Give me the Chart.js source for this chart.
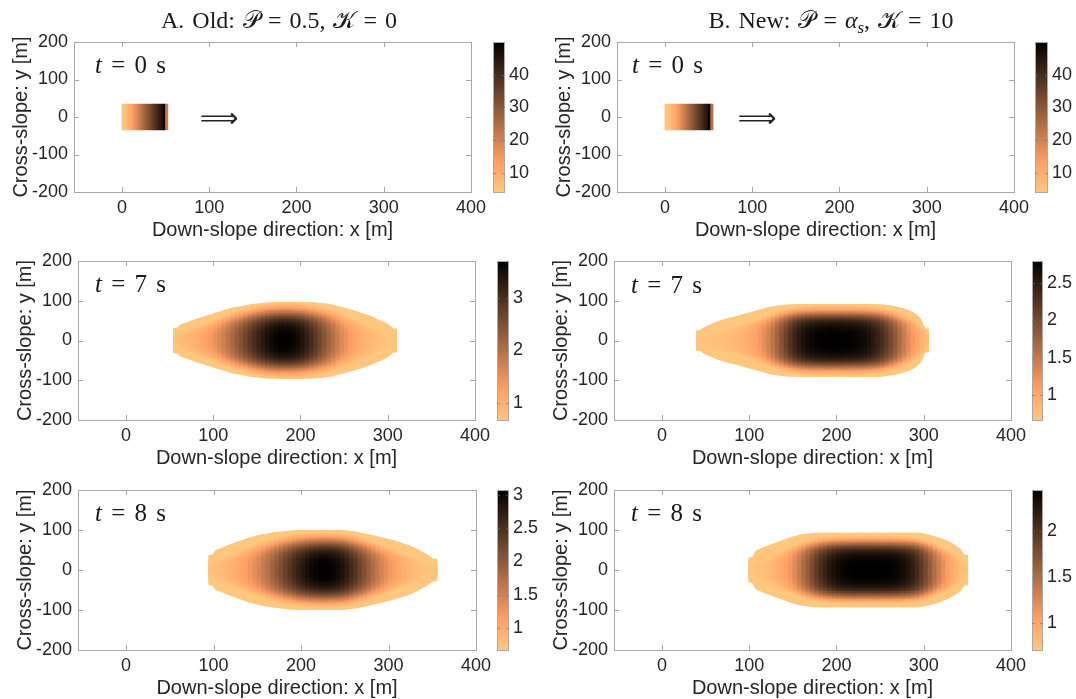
<!DOCTYPE html>
<html>
<head>
<meta charset="utf-8">
<script src="https://cdn.jsdelivr.net/npm/chart.js@4.4.1/dist/chart.umd.min.js"></script>
<style>
  html, body { margin:0; padding:0; }
  body { width:1076px; height:699px; overflow:hidden; background:#ffffff; position:relative; }
  canvas { position:absolute; }
  .ttl { position:absolute; font-family:'Liberation Serif','DejaVu Serif',serif; font-size:24px; word-spacing:2px; color:#1a1a1a; white-space:nowrap; transform:translate(-50%,-50%); z-index:5; }
  .tlab { position:absolute; font-family:'Liberation Serif','DejaVu Serif',serif; font-size:25px; word-spacing:3px; color:#1a1a1a; white-space:nowrap; transform:translateY(-50%); z-index:5; }
  .arrow { position:absolute; font-family:'DejaVu Sans',sans-serif; font-size:27px; color:#222; transform:translate(-50%,-50%); z-index:5; }
  sub { font-size:70%; vertical-align:-0.3em; line-height:0; }
</style>
</head>
<body>
<script>
// ---------------- DATA ----------------
const xTickValues = [0, 100, 200, 300, 400];
const yTickValues = [-200, -100, 0, 100, 200];

// t = 0 s : initial blocks, columns every 2.5 m starting at x = 1.25 m
const oldT0Thickness = [4.3, 5.5, 7.5, 9.8, 12.2, 14.6, 17.0, 19.4, 21.8, 24.2, 26.6, 29.0, 31.4, 33.8, 36.2, 38.6, 41.0, 43.4, 45.8, 48.5, 22.0];
const newT0Thickness = [4.3, 5.0, 6.4, 8.4, 10.6, 12.9, 15.2, 17.5, 19.8, 22.1, 24.4, 26.7, 29.0, 31.3, 33.6, 35.9, 38.2, 40.5, 42.8, 45.2, 48.5, 24.0];
const oldT0HalfWidth = 34;
const newT0HalfWidth = 34;

// t = 7 s, old model : columns every 5 m from x = 57.5 m
const oldT7Thickness = [0.79,0.83,0.87,0.92,0.98,1.05,1.14,1.24,1.35,1.48,1.62,1.77,1.93,2.11,2.29,2.47,2.66,2.84,3.01,3.18,3.32,3.45,3.55,3.63,3.68,3.70,
  3.68,3.62,3.53,3.40,3.23,3.05,2.85,2.63,2.42,2.20,2.00,1.80,1.62,1.46,1.32,1.19,1.09,1.00,0.92,0.86,0.82,0.78,0.75,0.73,0.71];
const oldT7HalfWidth = [32,40,44,48,52,56,59,63,66,70,73,77,80,83,85,87,89,91,92.5,94,95,96,96.5,97,97,97,
  97,97,97,97,96.5,96,95.5,94.5,93.5,92,90,87,84,81,78,75,72,68,64,60,55,50,45,38,30];

// t = 7 s, new model : columns every 5 m from x = 42.5 m
const newT7Thickness = [0.70,0.71,0.72,0.73,0.74,0.75,0.77,0.79,0.81,0.84,0.88,0.93,0.99,1.07,1.16,1.27,1.40,1.55,1.72,1.90,2.08,2.25,2.40,
  2.52,2.61,2.68,2.72,2.75,2.77,2.78,2.79,2.79,2.79,2.78,2.77,2.76,2.74,2.71,2.67,2.61,2.53,2.43,
  2.31,2.17,2.01,1.84,1.66,1.48,1.31,1.15,1.01,0.89,0.80];
const newT7HalfWidth = [26,33,38,43,47,51,54,57,60,63,66,69,72,75,78,81,84,86,88,89.5,90.5,91,91.5,
  92,92,92,92,92,92,92,92,92,92,92,92,92,92,92,92,92,92,92,
  91,89.5,88,86,83.5,80.5,77,72,64,52,30];

// t = 8 s, old model : columns every 5 m from x = 97.5 m
const oldT8Thickness = [0.76,0.79,0.82,0.86,0.90,0.96,1.02,1.09,1.17,1.26,1.36,1.47,1.59,1.72,1.86,2.00,2.14,2.29,2.42,2.56,2.68,2.79,2.89,2.97,3.02,3.06,3.07,
  3.06,3.02,2.95,2.85,2.73,2.59,2.44,2.27,2.11,1.94,1.78,1.63,1.49,1.36,1.24,1.14,1.05,0.97,0.91,0.86,0.81,0.78,0.75,0.73,0.72];
const oldT8HalfWidth = [38,50,54,59,63,67,71,75,79,82,85,88,90,92,93.5,95,96.5,97.5,98.5,99.5,100,
  100,100,100,100,100,100,100,100,100,100,
  99,97.5,96,94,92,89.5,87,84.5,82,79,76,73,70,66.5,63,58,53,47,41,34,28];

// t = 8 s, new model : columns every 5 m from x = 102.5 m
const newT8Thickness = [0.74,0.75,0.77,0.79,0.82,0.86,0.91,0.97,1.04,1.13,1.24,1.37,1.51,1.65,1.79,1.93,2.05,2.15,2.24,2.31,2.36,2.40,2.42,2.44,2.45,
  2.45,2.45,2.45,2.45,2.45,2.44,2.44,2.43,2.41,2.38,2.34,2.28,2.20,2.09,1.96,1.81,1.65,1.49,1.34,1.20,1.07,0.96,0.87,0.80,0.76];
const newT8HalfWidth = [32,48,53,58,62,66,70,74,78,82,85,88,90,91.5,92.5,93,
  93.5,93.5,93.5,93.5,93.5,93.5,93.5,93.5,93.5,93.5,93.5,93.5,93.5,93.5,93.5,93.5,93.5,93.5,93.5,93.5,93.5,93.5,93.5,
  92,90,87.5,84.5,81,77,73,67,60,52,38];

// cross-slope profile: fraction of the centre-line thickness, from the centre (first) to the edge (last)
const crossOld = [1.00,1.00,0.995,0.99,0.98,0.97,0.95,0.93,0.90,0.86,0.81,0.75,0.68,0.60,0.52,0.44,0.36,0.29,0.23,0.19];
const crossNew = [1.00,1.00,1.00,0.995,0.99,0.98,0.97,0.955,0.93,0.90,0.86,0.80,0.73,0.65,0.56,0.47,0.39,0.32,0.27,0.24];
const crossBlock = [1.00];

// colour bar ranges and ticks
const cbarOldT0 = [4.3, 49.9], cbarTicksOldT0 = [10, 20, 30, 40];
const cbarNewT0 = [4.3, 49.9], cbarTicksNewT0 = [10, 20, 30, 40];
const cbarOldT7 = [0.67, 3.70], cbarTicksOldT7 = [1, 2, 3];
const cbarNewT7 = [0.67, 2.79], cbarTicksNewT7 = [1, 1.5, 2, 2.5];
const cbarOldT8 = [0.675, 3.07], cbarTicksOldT8 = [1, 1.5, 2, 2.5, 3];
const cbarNewT8 = [0.71, 2.45], cbarTicksNewT8 = [1, 1.5, 2];

// ---------------- LAYOUT / STYLE ----------------
const FONT = "'Liberation Sans', Arial, Helvetica, sans-serif";
const TXT = '#262626';
const BOX = '#a9a9a9';
Chart.defaults.font.family = FONT;

function copper(t) { // reversed MATLAB copper: t=0 light, t=1 black
  t = Math.max(0, Math.min(1, t));
  const u = 1 - t;
  const r = Math.min(1, 1.25 * u), g = 0.7812 * u, b = 0.4975 * u;
  return `rgb(${Math.round(r*255)},${Math.round(g*255)},${Math.round(b*255)})`;
}
function colourFor(v, range) { return copper((v - range[0]) / (range[1] - range[0])); }

// nested floating bars: one dataset per cross-slope level, innermost first (drawn on top)
function heatDatasets(x0, dx, thick, half, cross, range, smooth) {
  const K = cross.length;
  const xs = thick.map((_, i) => x0 + i * dx);
  const hw = Array.isArray(half) ? half : thick.map(() => half);
  const sets = cross.map((c, k) => {
    const s = (k + 1) / K;
    const outer = smooth && k === K - 1;
    return {
      data: xs.map((x, i) => {
        const h = outer ? Math.max(hw[i], hw[Math.max(0, i - 1)], hw[Math.min(hw.length - 1, i + 1)]) : hw[i] * s;
        return { x: x, y: [-h, h] };
      }),
      backgroundColor: thick.map(v => colourFor(v * c, range)),
      borderWidth: 0, barPercentage: 1, categoryPercentage: 1, inflateAmount: 0.45, grouped: false
    };
  });
  if (!smooth) return sets;
  // white masks above / below the read outline, so the outer edge is a smooth curve
  const n = hw.length;
  const up = [{ x: xs[0] - dx, y: hw[0] }, { x: xs[0] - dx / 2, y: hw[0] }]
    .concat(xs.map((x, i) => ({ x: x, y: hw[i] })),
            [{ x: xs[n - 1] + dx / 2, y: hw[n - 1] }, { x: xs[n - 1] + dx, y: hw[n - 1] }]);
  const lo = up.map(p => ({ x: p.x, y: -p.y }));
  const mask = (pts, target) => ({
    type: 'line', data: pts, fill: target, backgroundColor: '#ffffff', borderColor: 'rgba(255,255,255,0)',
    borderWidth: 0, pointRadius: 0, cubicInterpolationMode: 'monotone'
  });
  return [mask(up, 'end'), mask(lo, 'start')].concat(sets);
}

const boxPlugin = {
  id: 'matlabBox',
  afterDraw(chart) {
    const { ctx, chartArea: a, scales: { x, y } } = chart;
    ctx.save();
    ctx.strokeStyle = BOX; ctx.lineWidth = 1;
    ctx.strokeRect(Math.round(a.left) + 0.5, Math.round(a.top) + 0.5, Math.round(a.right - a.left), Math.round(a.bottom - a.top));
    ctx.beginPath();
    xTickValues.forEach(v => {
      const p = Math.round(x.getPixelForValue(v)) + 0.5;
      ctx.moveTo(p, a.bottom); ctx.lineTo(p, a.bottom - 5);
      ctx.moveTo(p, a.top); ctx.lineTo(p, a.top + 5);
    });
    yTickValues.forEach(v => {
      const p = Math.round(y.getPixelForValue(v)) + 0.5;
      ctx.moveTo(a.left, p); ctx.lineTo(a.left + 5, p);
      ctx.moveTo(a.right, p); ctx.lineTo(a.right - 5, p);
    });
    ctx.stroke();
    ctx.restore();
  }
};

const cbarPlugin = {
  id: 'cbarBox',
  afterDraw(chart) {
    const { ctx, chartArea: a, scales: { y } } = chart;
    ctx.save();
    ctx.strokeStyle = BOX; ctx.lineWidth = 1;
    ctx.strokeRect(Math.round(a.left) + 0.5, Math.round(a.top) + 0.5, Math.round(a.right - a.left) - 1, Math.round(a.bottom - a.top));
    ctx.strokeStyle = 'rgba(120,120,120,0.6)';
    ctx.beginPath();
    y.ticks.forEach(t => {
      const p = Math.round(y.getPixelForValue(t.value)) + 0.5;
      ctx.moveTo(a.right, p); ctx.lineTo(a.right - 3, p);
      ctx.moveTo(a.left, p); ctx.lineTo(a.left + 3, p);
    });
    ctx.stroke();
    ctx.restore();
  }
};

function makeCanvas(left, top, w, h) {
  const c = document.createElement('canvas');
  c.width = w; c.height = h;
  c.style.left = left + 'px'; c.style.top = top + 'px';
  c.style.width = w + 'px'; c.style.height = h + 'px';
  document.body.appendChild(c);
  return c;
}

function panel(geo, datasets) {
  const padL = 74, padT = 20, padR = 25, padB = 52;
  const cl = geo.L - padL, ct = geo.T - padT;
  const cw = geo.R - geo.L + padL + padR, ch = geo.B - geo.T + padT + padB;
  const cv = makeCanvas(cl, ct, cw, ch);
  new Chart(cv, {
    type: 'bar',
    data: { datasets },
    options: {
      responsive: false, animation: false, devicePixelRatio: 1, events: [],
      layout: { padding: { top: padT, right: padR, left: 0, bottom: 0 } },
      plugins: { legend: { display: false }, tooltip: { enabled: false }, filler: { propagate: false } },
      scales: {
        x: {
          type: 'linear', min: -55, max: 400, offset: false,
          grid: { display: false, drawTicks: false, offset: false }, border: { display: false },
          afterBuildTicks: s => { s.ticks = xTickValues.map(v => ({ value: v })); },
          ticks: { color: TXT, font: { size: 18 }, padding: 5, maxRotation: 0, autoSkip: false },
          title: { display: true, text: 'Down-slope direction: x [m]', color: TXT, font: { size: 20 }, padding: { top: 0, bottom: 2 } },
          afterFit: s => { s.height = padB; }
        },
        y: {
          type: 'linear', min: -200, max: 200,
          grid: { display: false, drawTicks: false }, border: { display: false },
          afterBuildTicks: s => { s.ticks = yTickValues.map(v => ({ value: v })); },
          ticks: { color: TXT, font: { size: 18 }, padding: 6, autoSkip: false },
          title: { display: true, text: 'Cross-slope: y [m]', color: TXT, font: { size: 20 }, padding: { top: 9, bottom: 0 } },
          afterFit: s => { s.width = padL; }
        }
      }
    },
    plugins: [boxPlugin]
  });
}

function colourbar(geo, range, ticks) {
  const padT = 15, padB = 15, padR = 40;
  const cw = geo.cbR - geo.cbL + padR, ch = geo.B - geo.T + padT + padB;
  const cv = makeCanvas(geo.cbL, geo.T - padT, cw, ch);
  new Chart(cv, {
    type: 'bar',
    data: {
      labels: [''],
      datasets: [{
        data: [[range[0], range[1]]],
        backgroundColor: c => {
          const a = c.chart.chartArea;
          if (!a) return '#ffffff';
          const g = c.chart.ctx.createLinearGradient(0, a.bottom, 0, a.top);
          for (let i = 0; i <= 40; i++) g.addColorStop(i / 40, copper(i / 40));
          return g;
        },
        borderWidth: 0, barPercentage: 1, categoryPercentage: 1, inflateAmount: 0
      }]
    },
    options: {
      responsive: false, animation: false, devicePixelRatio: 1, events: [],
      layout: { padding: { top: padT, bottom: padB, left: 0, right: 0 } },
      plugins: { legend: { display: false }, tooltip: { enabled: false } },
      scales: {
        x: { display: false },
        y: {
          position: 'right', min: range[0], max: range[1],
          grid: { display: false, drawTicks: false }, border: { display: false },
          afterBuildTicks: s => { s.ticks = ticks.map(v => ({ value: v })); },
          ticks: { color: TXT, font: { size: 18 }, padding: 4, autoSkip: false, callback: v => String(v) },
          afterFit: s => { s.width = padR; }
        }
      }
    },
    plugins: [cbarPlugin]
  });
}

function label(cls, html, left, top) {
  const d = document.createElement('div');
  d.className = cls; d.innerHTML = html;
  d.style.left = left + 'px'; d.style.top = top + 'px';
  document.body.appendChild(d);
}

const G = {
  A0: { L: 74,  R: 471,  T: 42,  B: 192, cbL: 493,  cbR: 505 },
  B0: { L: 617, R: 1014, T: 42,  B: 192, cbL: 1035, cbR: 1048 },
  A7: { L: 78,  R: 475,  T: 261, B: 420, cbL: 497,  cbR: 509 },
  B7: { L: 614, R: 1011, T: 261, B: 420, cbL: 1032, cbR: 1043 },
  A8: { L: 78,  R: 476,  T: 490, B: 650, cbL: 497,  cbR: 509 },
  B8: { L: 614, R: 1011, T: 490, B: 650, cbL: 1032, cbR: 1043 }
};

panel(G.A0, heatDatasets(1.25, 2.5, oldT0Thickness, oldT0HalfWidth, crossBlock, cbarOldT0, false));
panel(G.B0, heatDatasets(1.25, 2.5, newT0Thickness, newT0HalfWidth, crossBlock, cbarNewT0, false));
panel(G.A7, heatDatasets(57.5, 5, oldT7Thickness, oldT7HalfWidth, crossOld, cbarOldT7, true));
panel(G.B7, heatDatasets(42.5, 5, newT7Thickness, newT7HalfWidth, crossNew, cbarNewT7, true));
panel(G.A8, heatDatasets(97.5, 5, oldT8Thickness, oldT8HalfWidth, crossOld, cbarOldT8, true));
panel(G.B8, heatDatasets(102.5, 5, newT8Thickness, newT8HalfWidth, crossNew, cbarNewT8, true));

colourbar(G.A0, cbarOldT0, cbarTicksOldT0);
colourbar(G.B0, cbarNewT0, cbarTicksNewT0);
colourbar(G.A7, cbarOldT7, cbarTicksOldT7);
colourbar(G.B7, cbarNewT7, cbarTicksNewT7);
colourbar(G.A8, cbarOldT8, cbarTicksOldT8);
colourbar(G.B8, cbarNewT8, cbarTicksNewT8);

label('ttl', 'A. Old: 𝒫 = 0.5, 𝒦 = 0', 279, 20);
label('ttl', 'B. New: 𝒫 = <i>α</i><sub><i>s</i></sub>, 𝒦 = 10', 831, 20);
label('tlab', '<i>t</i> = 0 s', 95, 65);
label('tlab', '<i>t</i> = 0 s', 632, 65);
label('tlab', '<i>t</i> = 7 s', 95, 284);
label('tlab', '<i>t</i> = 7 s', 631, 285);
label('tlab', '<i>t</i> = 8 s', 95, 513);
label('tlab', '<i>t</i> = 8 s', 631, 513);
label('arrow', '⟹', 219, 117);
label('arrow', '⟹', 757, 117);
</script>
</body>
</html>
